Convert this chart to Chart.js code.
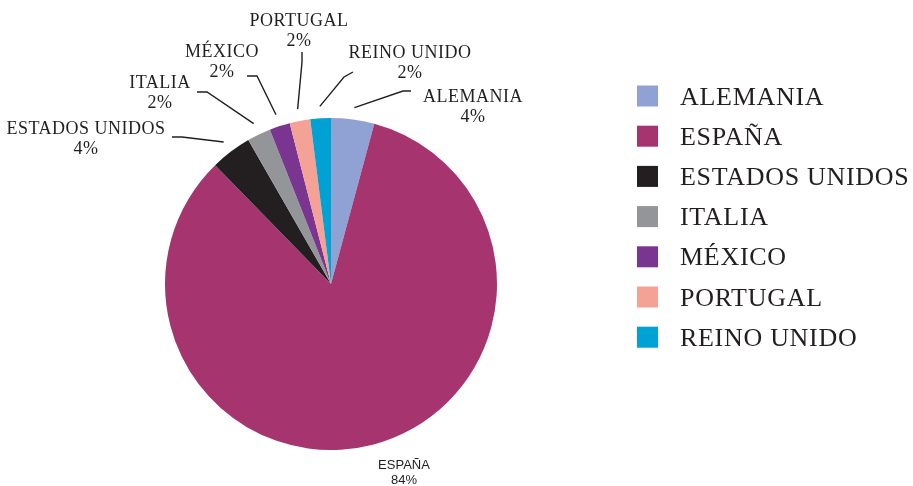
<!DOCTYPE html>
<html>
<head>
<meta charset="utf-8">
<script src="https://cdn.jsdelivr.net/npm/chart.js@4"></script>
<style>
  html, body { margin: 0; padding: 0; background: #ffffff; }
  #wrap { width: 913px; height: 486px; position: relative; overflow: hidden; }
</style>
</head>
<body>
<div id="wrap"><canvas id="c" width="913" height="486"></canvas></div>
<script>
// ---- data ----
const categories = ['ALEMANIA', 'ESPAÑA', 'ESTADOS UNIDOS', 'ITALIA', 'MÉXICO', 'PORTUGAL', 'REINO UNIDO'];
const shares = [4.2, 83.5, 4.0, 2.3, 2.0, 2.0, 2.0];
const sliceColors = ['#8FA2D3', '#A6346F', '#231F20', '#939598', '#7A3591', '#F4A196', '#00A1D3'];

// ---- annotation layout (label placement only) ----
const labelLayout = [
  { tx: 473, ty: 96,  elbow: [403, 91], end: [411, 91] },
  { tx: 404, ty: 464, sans: true },
  { tx: 86,  ty: 128, elbow: [182, 137], end: [172, 137] },
  { tx: 160, ty: 82,  elbow: [207, 92], end: [197, 92] },
  { tx: 222, ty: 51,  elbow: [257, 76], end: [247, 76] },
  { tx: 299, ty: 20,  elbow: [302, 62], end: [302, 52] },
  { tx: 410, ty: 52,  elbow: [344, 77], end: [353, 72] }
];

const TEXT = '#231F20';
const SERIF = '"Liberation Serif", "Times New Roman", serif';
const SANS = '"Liberation Sans", Arial, sans-serif';

const outerLabels = {
  id: 'outerLabels',
  afterDraw(chart) {
    const ctx = chart.ctx;
    const meta = chart.getDatasetMeta(0);
    const data = chart.data.datasets[0].data;
    const total = data.reduce((a, b) => a + b, 0);
    ctx.save();
    meta.data.forEach((arc, i) => {
      const p = arc.getProps(['x', 'y', 'startAngle', 'endAngle', 'outerRadius'], true);
      const L = labelLayout[i];
      const pct = Math.round(data[i] / total * 100) + '%';
      ctx.fillStyle = TEXT;
      ctx.textAlign = 'center';
      ctx.textBaseline = 'alphabetic';
      if (L.sans) {
        ctx.letterSpacing = '0px';
        ctx.font = '13px ' + SANS;
        ctx.fillText(chart.data.labels[i], L.tx, L.ty + 4.7);
        ctx.fillText(pct, L.tx, L.ty + 15 + 4.7);
      } else {
        ctx.letterSpacing = '0.5px';
        ctx.font = '18px ' + SERIF;
        ctx.fillText(chart.data.labels[i], L.tx, L.ty + 6);
        ctx.fillText(pct, L.tx, L.ty + 19.5 + 6);
        const mid = (p.startAngle + p.endAngle) / 2;
        const r = p.outerRadius + 12;
        const sx = p.x + Math.cos(mid) * r;
        const sy = p.y + Math.sin(mid) * r;
        ctx.strokeStyle = TEXT;
        ctx.lineWidth = 1.4;
        ctx.beginPath();
        ctx.moveTo(sx, sy);
        ctx.lineTo(L.elbow[0], L.elbow[1]);
        ctx.lineTo(L.end[0], L.end[1]);
        ctx.stroke();
      }
    });
    ctx.restore();
  }
};

const sideLegend = {
  id: 'sideLegend',
  afterDraw(chart) {
    const ctx = chart.ctx;
    const colors = chart.data.datasets[0].backgroundColor;
    ctx.save();
    chart.data.labels.forEach((lab, i) => {
      const cy = 96 + i * 40.2;
      ctx.fillStyle = colors[i];
      ctx.fillRect(637, cy - 10.5, 21, 21);
      ctx.fillStyle = TEXT;
      ctx.letterSpacing = '0.7px';
      ctx.font = '26px ' + SERIF;
      ctx.textAlign = 'left';
      ctx.textBaseline = 'alphabetic';
      ctx.fillText(lab, 680, cy + 8.6);
    });
    ctx.restore();
  }
};

new Chart(document.getElementById('c'), {
  type: 'pie',
  data: {
    labels: categories,
    datasets: [{
      data: shares,
      backgroundColor: sliceColors,
      borderWidth: 0
    }]
  },
  options: {
    responsive: false,
    animation: false,
    layout: { padding: { left: 165, top: 118, right: 416, bottom: 36 } },
    plugins: {
      legend: { display: false },
      tooltip: { enabled: false }
    }
  },
  plugins: [outerLabels, sideLegend]
});
</script>
</body>
</html>
